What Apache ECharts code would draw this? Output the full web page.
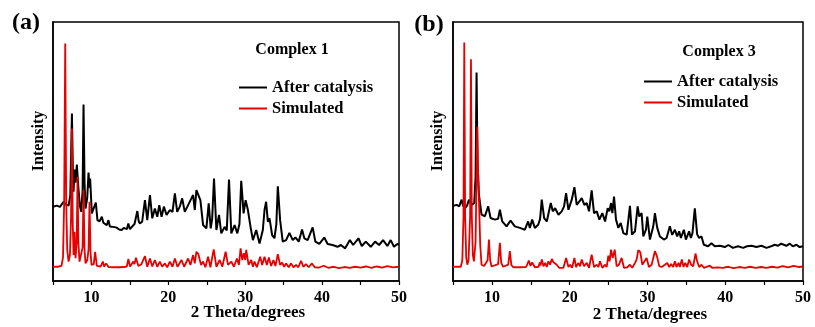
<!DOCTYPE html>
<html>
<head>
<meta charset="utf-8">
<script src="https://cdn.jsdelivr.net/npm/echarts@6/dist/echarts.min.js"></script>
<style>
html,body{margin:0;padding:0;background:#fff;}
#chart{width:815px;height:327px;}
</style>
</head>
<body>
<div id="chart"></div>
<script>
// ---- data (2θ in degrees, intensity in arbitrary units 0-100) ----
const panelLabels = ['(a)', '(b)'];
const panelTitles = ['Complex 1', 'Complex 3'];
const seriesNames = ['After catalysis', 'Simulated'];
const xTicks = [10, 20, 30, 40, 50];

const afterA = [[5.0,28.7],[5.5,29.1],[5.9,28.6],[6.38,30.6],[6.7,29.5],[7.03,29.1],[7.25,33],[7.46,64.7],[7.6,40],[7.67,34.5],[7.8,43],[7.95,38],[8.1,45],[8.3,36],[8.5,29],[8.67,26.7],[8.85,35],[8.97,68.1],[9.1,38],[9.23,28],[9.45,32],[9.62,41.9],[9.75,36],[9.83,39.6],[10.05,26.1],[10.3,25.5],[10.57,30.3],[10.78,23.5],[11.05,23],[11.35,24.8],[11.55,22.5],[11.78,22.2],[12.0,21.5],[12.21,23.5],[12.4,21],[12.64,20.3],[13.0,20.8],[13.29,20.6],[13.6,19.9],[13.94,19.7],[14.2,20.5],[14.37,20.3],[14.6,20],[14.8,22.2],[15.0,20],[15.23,20.3],[15.6,22],[15.97,27],[16.15,23],[16.31,22.2],[16.6,23],[16.96,31.2],[17.26,23.5],[17.61,33.2],[17.91,24.2],[18.25,28],[18.56,24.8],[18.82,29.3],[19.12,24.8],[19.42,28.7],[19.77,25.5],[20.2,27.4],[20.54,26.7],[20.85,33.8],[21.15,26.7],[21.49,28.7],[21.8,31.9],[22.14,26.7],[22.57,29.3],[23.0,31.9],[23.22,33.2],[23.44,27.4],[23.65,35.1],[23.91,35.7],[24.17,31.2],[24.52,21.6],[24.95,20.3],[25.25,30],[25.51,20.3],[25.7,24],[25.94,39.6],[26.25,19.7],[26.59,25.5],[26.89,18.4],[27.32,20.9],[27.6,19.5],[27.89,39.2],[28.19,18.4],[28.62,21.6],[28.97,18.4],[29.25,22],[29.48,38.7],[29.79,26.1],[30.05,31.2],[30.35,27.4],[30.69,20.9],[31.0,15.8],[31.43,19.7],[31.86,14.5],[32.29,19.7],[32.51,27.4],[32.72,30.6],[32.94,22.9],[33.16,24.2],[33.5,17.7],[33.8,16.5],[34.05,22],[34.24,36.6],[34.54,23.5],[34.88,15.2],[35.32,15.8],[35.75,18.6],[36.18,15.8],[36.53,16.8],[36.96,15.2],[37.39,19.9],[37.69,16.5],[38.12,15.8],[38.77,20.7],[39.12,15.2],[39.64,14.3],[40.28,16.8],[40.72,14.3],[41.36,13.9],[42.01,13.2],[42.44,13.9],[43.0,12.6],[43.61,15.8],[44.04,13.9],[44.73,16.5],[45.16,13.5],[45.68,15.2],[46.33,13.2],[46.89,15.2],[47.41,13.9],[47.93,15.8],[48.49,13.5],[48.92,15.8],[49.35,13.2],[49.79,14.3],[50,14]];

const simA = [[5.0,5.5],[5.6,5.5],[6.1,5.8],[6.3,9],[6.45,30],[6.59,91.7],[6.72,30],[6.85,12],[7.03,7.5],[7.2,10],[7.35,25],[7.46,58.9],[7.57,22],[7.67,10],[7.8,19],[7.93,8.8],[8.08,15],[8.19,40.2],[8.3,15],[8.45,7.5],[8.67,8],[8.85,13],[8.97,35.1],[9.1,12],[9.23,6.8],[9.45,8],[9.62,12],[9.75,30.6],[9.88,11],[10.01,6.2],[10.3,6.5],[10.48,11.3],[10.7,5.8],[11.2,5.6],[11.48,7.5],[11.65,5.6],[11.91,6.8],[12.21,5.4],[12.8,5.3],[13.5,5.3],[14.2,5.4],[14.6,5.6],[14.8,8.5],[15.02,5.6],[15.25,6],[15.45,7.5],[15.6,6.5],[15.79,9],[16.1,5.8],[16.5,6.5],[16.96,9.6],[17.26,5.5],[17.61,8.7],[17.91,5.6],[18.25,8.1],[18.56,5.5],[18.9,7.5],[19.2,5.5],[19.55,6.8],[19.85,5.3],[20.2,7.5],[20.54,5.5],[20.85,8.7],[21.19,5.5],[21.71,8.1],[22.06,5.5],[22.57,8.7],[22.88,6.2],[23.22,10],[23.44,6.8],[23.65,11.3],[23.9,10.4],[24.26,6.2],[24.52,7.5],[24.82,5.3],[25.17,9.4],[25.47,5.3],[25.9,12.2],[26.25,5.5],[26.68,8.1],[27.02,5.5],[27.45,11.3],[27.76,6.2],[28.19,7.5],[28.53,5.5],[28.92,8.7],[29.18,6.2],[29.4,12.6],[29.61,8.1],[29.83,10.7],[30.0,8.1],[30.13,12],[30.44,6.2],[30.78,8.1],[31.0,5.5],[31.21,7.5],[31.51,5.3],[31.95,9.4],[32.2,6.2],[32.51,9.4],[32.81,6.2],[33.07,9.1],[33.37,5.8],[33.67,8.1],[33.93,5.8],[34.24,10.4],[34.54,6.2],[34.8,7.1],[35.06,5.5],[35.32,6.8],[35.66,5.3],[35.96,6.8],[36.27,5.3],[36.61,6.2],[36.91,5.3],[37.26,7.8],[37.56,5.5],[37.91,6.5],[38.25,5.3],[38.68,6.8],[39.03,5.3],[39.6,5.2],[40.2,5.9],[40.8,5.1],[41.5,5.5],[42.2,5.0],[42.9,5.4],[43.6,5.1],[44.3,5.5],[45.0,5.2],[45.7,5.6],[46.4,5.1],[47.1,5.6],[47.8,5.2],[48.5,5.7],[49.2,5.3],[50,5.5]];

const afterB = [[5.0,29],[5.47,29.4],[5.8,28.8],[6.11,31.4],[6.3,29],[6.54,28.2],[6.8,29],[7.05,31.4],[7.39,29.4],[7.73,30.1],[7.9,40],[8.03,80.5],[8.15,45],[8.33,33.3],[8.67,25.6],[9.1,25],[9.53,28.8],[9.83,24.3],[10.39,23.7],[10.8,24],[11.03,27.5],[11.33,23],[11.88,21.1],[12.4,23.3],[12.95,21.1],[13.6,20.5],[14.24,19.8],[14.66,23],[14.88,20.5],[15.18,23.7],[15.52,20.5],[15.95,21.7],[16.2,24],[16.41,31.4],[16.72,24.3],[17.06,23],[17.57,30.1],[17.83,26.9],[18.13,28.1],[18.56,25.6],[18.98,26.9],[19.28,28.8],[19.54,33.9],[19.84,27.5],[20.27,31.4],[20.61,36.2],[20.91,29.4],[21.25,30.7],[21.55,32],[21.89,29.4],[22.19,30.1],[22.49,26.9],[22.83,35],[23.13,26.2],[23.48,26.9],[23.82,23.7],[24.2,26.2],[24.55,23],[24.89,28.1],[25.1,26.9],[25.32,30.1],[25.49,26.2],[25.7,32.6],[25.96,23.7],[26.26,20.5],[26.56,22.4],[26.9,18.5],[27.33,17.9],[27.75,29],[28.01,17.9],[28.4,19.2],[28.74,28.8],[28.95,24.9],[29.25,26.2],[29.47,17.2],[29.81,19.8],[29.98,24.9],[30.32,16],[30.75,21.1],[30.96,26.2],[31.26,20.5],[31.6,17.2],[32.12,16],[32.46,16.6],[32.88,21.1],[33.18,17.8],[33.53,19.8],[33.82,17.2],[34.08,19.2],[34.3,16.6],[34.68,19.8],[34.94,16],[35.36,19.2],[35.58,16.6],[35.79,18.5],[36.09,28.1],[36.39,18],[36.65,16.6],[36.95,17.2],[37.25,14],[37.8,13.4],[38.23,14.6],[38.66,13.4],[39.3,13.6],[39.95,13.1],[40.4,13.9],[41.0,12.8],[41.65,13.4],[42.3,12.8],[42.8,13.4],[43.4,13.6],[44.0,13.1],[44.66,13.6],[45.3,12.8],[45.9,13.4],[46.36,14],[46.8,13.6],[47.2,14.4],[47.86,13.6],[48.3,14.4],[48.7,13.4],[49.15,14],[49.57,13.1],[50,13.4]];

const simB = [[5.0,5.5],[6.0,5.5],[6.2,8],[6.35,25],[6.45,92.1],[6.56,25],[6.7,9],[6.84,6.3],[7.0,8],[7.2,25],[7.31,85.6],[7.42,25],[7.55,10],[7.69,7.6],[7.9,15],[8.12,59.6],[8.22,42],[8.25,41],[8.38,40.3],[8.5,14],[8.67,6.3],[9.0,5.8],[9.45,8],[9.62,16],[9.78,8],[9.96,5.6],[10.8,6.5],[11.03,14.7],[11.2,7],[11.45,5.5],[12.1,6.3],[12.31,11.5],[12.5,6.2],[12.74,5.3],[13.5,5.3],[14.4,5.4],[14.6,5.8],[14.75,7.9],[14.96,5.8],[15.18,7.2],[15.52,5.3],[16.0,5.5],[16.16,7.2],[16.25,6],[16.42,8.3],[16.63,5.7],[16.85,7.0],[17.06,5.4],[17.27,7.6],[17.49,6.3],[17.7,8.5],[17.92,7.2],[18.13,7.6],[18.34,6.3],[18.64,5.1],[19.2,5.1],[19.54,8.9],[19.84,5.4],[20.05,6.3],[20.31,5.1],[20.61,8.9],[20.82,5.4],[21.12,7.0],[21.34,5.7],[21.55,8.3],[21.85,5.7],[22.19,7.0],[22.49,5.1],[22.83,10.2],[23.13,5.4],[23.48,6.3],[23.69,5.4],[23.9,7.6],[24.2,5.1],[24.55,6.3],[24.76,5.4],[24.97,9.8],[25.14,7.6],[25.32,12.1],[25.53,8.9],[25.79,12.1],[26.04,5.7],[26.34,6.3],[26.68,8.9],[26.98,5.1],[27.4,5.3],[27.75,6.3],[28.05,5.1],[28.4,7.0],[28.61,8.3],[28.82,11.9],[29.08,11.1],[29.34,6.3],[29.59,6.3],[29.89,8.9],[30.19,5.4],[30.54,6.3],[30.96,11.5],[31.22,9.6],[31.52,5.7],[31.82,5.4],[32.25,6.3],[32.54,7.0],[32.8,5.4],[33.05,6.6],[33.31,5.4],[33.53,7.6],[33.74,5.4],[34.0,7.0],[34.17,5.4],[34.42,8.3],[34.64,5.4],[34.85,7.0],[35.11,5.4],[35.36,8.3],[35.62,6.3],[35.88,5.7],[36.18,10.6],[36.39,7.6],[36.65,5.4],[36.95,6.3],[37.25,5.1],[38.02,5.9],[38.32,5.1],[39.0,5.3],[39.7,5.1],[40.4,5.5],[41.1,5.0],[41.8,5.4],[42.5,5.1],[43.2,5.5],[43.9,5.1],[44.6,5.4],[45.3,5.1],[46.0,5.5],[46.7,5.2],[47.4,5.7],[48.1,5.3],[48.8,5.8],[49.5,5.4],[50,5.6]];

// ---- chart ----
const FONT = '"Liberation Serif","Times New Roman",serif';
const BLACK = '#000000';
const RED = '#e60000';
const chart = echarts.init(document.getElementById('chart'), null, {renderer: 'canvas'});

const grids = [
  {left: 53, top: 22, width: 346, height: 259},
  {left: 453, top: 22, width: 350, height: 259}
];

function xAxisFor(i) {
  return {
    type: 'value', gridIndex: i, min: 5, max: 50, interval: 5,
    axisLine: {show: true, lineStyle: {color: BLACK, width: 1.5}},
    axisTick: {show: true, inside: false, length: 4, lineStyle: {color: BLACK, width: 1.2}},
    axisLabel: {
      margin: 9, color: BLACK, fontFamily: FONT, fontWeight: 'bold', fontSize: 16,
      formatter: v => (xTicks.indexOf(v) >= 0 ? String(v) : '')
    },
    splitLine: {show: false}
  };
}
function yAxisFor(i) {
  return {
    type: 'value', gridIndex: i, min: 0, max: 100,
    axisLine: {show: true, lineStyle: {color: BLACK, width: 1.5}},
    axisTick: {show: false}, axisLabel: {show: false}, splitLine: {show: false}
  };
}
function lineSeries(name, data, color, i, w) {
  return {
    name, type: 'line', data, xAxisIndex: i, yAxisIndex: i,
    showSymbol: false, symbol: 'none', smooth: false, animation: false,
    lineStyle: {color, width: w}, itemStyle: {color}, z: name === seriesNames[1] ? 3 : 2
  };
}
function legendFor(left, top) {
  return {
    orient: 'vertical', left, top, padding: 0, itemWidth: 28, itemHeight: 2, itemGap: 4,
    icon: 'rect', data: seriesNames, selectedMode: false,
    textStyle: {color: BLACK, fontFamily: FONT, fontWeight: 'bold', fontSize: 16.5}
  };
}
function txt(text, x, y, size, rot) {
  return {
    type: 'text', x, y, rotation: rot || 0, silent: true,
    style: {text, fill: BLACK, font: 'bold ' + size + 'px ' + FONT, textAlign: 'center', textVerticalAlign: 'middle'}
  };
}

chart.setOption({
  backgroundColor: '#ffffff',
  animation: false,
  grid: grids.map(g => Object.assign({show: true, borderColor: BLACK, borderWidth: 1.5, backgroundColor: 'transparent'}, g)),
  xAxis: [xAxisFor(0), xAxisFor(1)],
  yAxis: [yAxisFor(0), yAxisFor(1)],
  legend: [legendFor(239, 79), legendFor(644, 73)],
  series: [
    lineSeries(seriesNames[0], afterA, BLACK, 0, 2),
    lineSeries(seriesNames[1], simA, RED, 0, 1.8),
    lineSeries(seriesNames[0], afterB, BLACK, 1, 2),
    lineSeries(seriesNames[1], simB, RED, 1, 1.8)
  ],
  graphic: [
    txt(panelLabels[0], 26, 23, 24),
    txt(panelLabels[1], 429, 25, 24),
    txt(panelTitles[0], 292, 50, 16),
    txt(panelTitles[1], 719, 52, 16),
    txt('Intensity', 39, 141, 16, Math.PI / 2),
    txt('Intensity', 438, 141, 16, Math.PI / 2),
    txt('2 Theta/degrees', 248, 313, 17),
    txt('2 Theta/degrees', 650, 315, 17)
  ]
});
</script>
</body>
</html>
